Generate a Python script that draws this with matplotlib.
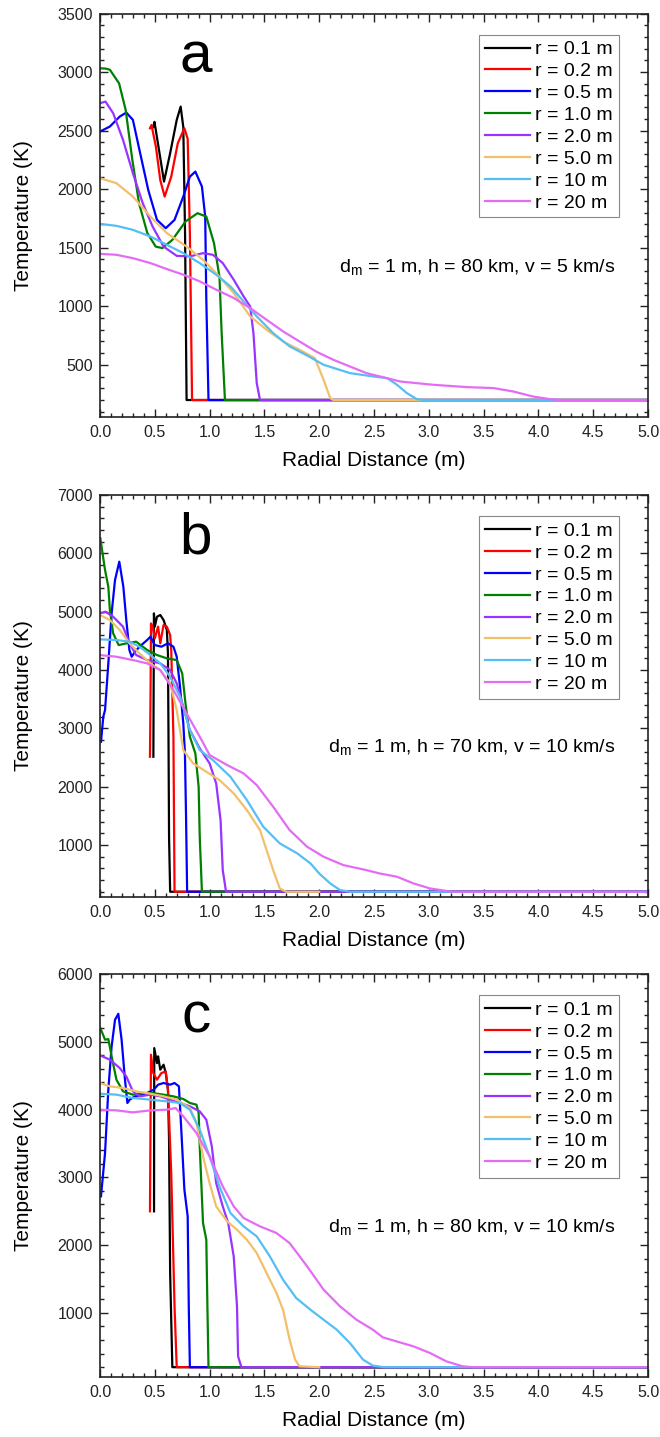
import matplotlib
matplotlib.use('Agg')
import matplotlib.pyplot as plt
from matplotlib.ticker import MultipleLocator

plt.rcParams['font.family'] = ['Liberation Sans', 'DejaVu Sans']
plt.rcParams['mathtext.fontset'] = 'custom'
plt.rcParams['mathtext.rm'] = 'Liberation Sans'

labels = ['r = 0.1 m', 'r = 0.2 m', 'r = 0.5 m', 'r = 1.0 m',
          'r = 2.0 m', 'r = 5.0 m', 'r = 10 m', 'r = 20 m']
colors = ['#000000', '#FF0000', '#0000FF', '#008000',
          '#9933FF', '#F2C06A', '#55BEF5', '#E46CF5']

# ---- panel a: d = 1 m, h = 80 km, v = 5 km/s ----
a_r01_x = [0.485, 0.497, 0.548, 0.584, 0.64, 0.70, 0.736, 0.76, 0.776, 0.79, 5.0]
a_r01_t = [2530, 2575, 2278, 2065, 2307, 2591, 2705, 2530, 1625, 200, 200]
a_r02_x = [0.456, 0.47, 0.51, 0.55, 0.59, 0.65, 0.71, 0.77, 0.80, 0.82, 0.84, 5.0]
a_r02_t = [2520, 2548, 2363, 2077, 1937, 2107, 2393, 2520, 2430, 1625, 200, 200]
a_r05_x = [0, 0.09, 0.18, 0.24, 0.30, 0.36, 0.44, 0.52, 0.60, 0.68, 0.76, 0.82, 0.87,
           0.93, 0.96, 0.97, 0.99, 5.0]
a_r05_t = [2492, 2535, 2620, 2654, 2592, 2335, 1994, 1738, 1667, 1738, 1937, 2107, 2150,
           2022, 1766, 1055, 200, 200]
a_r10_x = [0, 0.05, 0.09, 0.174, 0.234, 0.295, 0.356, 0.432, 0.508, 0.569, 0.66, 0.78,
           0.89, 0.97, 1.04, 1.09, 1.11, 1.14, 5.0]
a_r10_t = [3032, 3030, 3020, 2904, 2677, 2250, 1880, 1625, 1510, 1497, 1567, 1724,
           1795, 1766, 1539, 1254, 771, 200, 200]
a_r20_x = [0, 0.05, 0.12, 0.21, 0.30, 0.39, 0.48, 0.58, 0.70, 0.82, 0.94, 1.03, 1.12,
           1.22, 1.31, 1.37, 1.40, 1.43, 1.46, 5.0]
a_r20_t = [2734, 2748, 2649, 2421, 2137, 1880, 1681, 1510, 1431, 1426, 1454, 1440, 1369,
           1227, 1085, 999, 771, 345, 200, 200]
a_r50_x = [0, 0.15, 0.30, 0.46, 0.61, 0.79, 0.94, 1.09, 1.22, 1.37, 1.52, 1.67, 1.82,
           1.96, 2.04, 2.10, 2.13, 5.0]
a_r50_t = [2094, 2051, 1937, 1766, 1625, 1510, 1397, 1254, 1113, 914, 800, 700, 629,
           558, 373, 217, 200, 200]
a_r100_x = [0, 0.15, 0.30, 0.46, 0.61, 0.76, 0.91, 1.06, 1.19, 1.31, 1.43, 1.58, 1.73,
            1.89, 2.04, 2.28, 2.50, 2.62, 2.71, 2.80, 2.89, 2.95, 5.0]
a_r100_t = [1704, 1687, 1653, 1596, 1525, 1454, 1369, 1270, 1170, 1042, 914, 771, 658,
            580, 501, 430, 400, 387, 330, 259, 208, 200, 200]
a_r200_x = [0, 0.15, 0.30, 0.46, 0.61, 0.76, 0.91, 1.06, 1.22, 1.37, 1.52, 1.67, 1.82,
            1.98, 2.13, 2.43, 2.74, 3.04, 3.35, 3.59, 3.77, 3.95, 4.1, 4.2, 5.0]
a_r200_t = [1448, 1440, 1411, 1369, 1318, 1270, 1213, 1142, 1071, 985, 885, 786, 700,
            610, 543, 430, 358, 330, 310, 302, 273, 230, 208, 200, 200]

# ---- panel b: d = 1 m, h = 70 km, v = 10 km/s ----
b_r01_x = [0.487, 0.492, 0.50, 0.52, 0.55, 0.58, 0.61, 0.62, 0.625, 0.63, 0.64, 5.0]
b_r01_t = [2514, 4971, 4743, 4914, 4943, 4857, 4686, 4286, 2857, 1143, 200, 200]
b_r02_x = [0.456, 0.462, 0.465, 0.48, 0.50, 0.53, 0.55, 0.58, 0.61, 0.64, 0.65, 0.67,
           0.68, 5.0]
b_r02_t = [2514, 3800, 4800, 4743, 4543, 4743, 4457, 4771, 4743, 4600, 4343, 2857,
           200, 200]
b_r05_x = [0.009, 0.03, 0.046, 0.076, 0.106, 0.137, 0.176, 0.213, 0.24, 0.268, 0.289,
           0.32, 0.36, 0.43, 0.46, 0.50, 0.56, 0.62, 0.67, 0.70, 0.73, 0.76, 0.775,
           0.785, 0.795, 5.0]
b_r05_t = [2771, 3200, 3314, 4114, 4971, 5543, 5857, 5428, 4857, 4343, 4228,
           4314, 4400, 4514, 4571, 4428, 4400, 4457, 4400, 4228, 3714, 3086, 2571,
           1500, 200, 200]
b_r10_x = [0.003, 0.046, 0.076, 0.09, 0.12, 0.17, 0.24, 0.33, 0.43, 0.52, 0.61, 0.70,
           0.75, 0.78, 0.82, 0.87, 0.90, 0.91, 0.93, 5.0]
b_r10_t = [6258, 5714, 5428, 5029, 4629, 4428, 4457, 4486, 4343, 4257, 4200, 4171,
           3943, 3429, 2857, 2571, 2000, 1143, 200, 200]
b_r20_x = [0, 0.05, 0.12, 0.21, 0.27, 0.33, 0.43, 0.55, 0.64, 0.70, 0.76, 0.82, 0.91,
           1.00, 1.06, 1.10, 1.12, 1.15, 5.0]
b_r20_t = [4971, 5000, 4914, 4743, 4457, 4257, 4171, 4114, 4000, 3771, 3371, 2971, 2657,
           2400, 2057, 1429, 571, 200, 200]
b_r50_x = [0, 0.09, 0.18, 0.27, 0.36, 0.46, 0.55, 0.64, 0.70, 0.76, 0.85, 0.97, 1.09,
           1.22, 1.34, 1.46, 1.52, 1.58, 1.64, 1.70, 2.0]
b_r50_t = [4943, 4857, 4686, 4457, 4286, 4114, 4000, 3771, 3314, 2628, 2400, 2257, 2114,
           1886, 1600, 1257, 914, 571, 257, 200, 200]
b_r100_x = [0, 0.15, 0.27, 0.36, 0.46, 0.55, 0.64, 0.73, 0.82, 0.91, 1.03, 1.19, 1.34,
            1.49, 1.64, 1.80, 1.92, 2.0, 2.10, 2.19, 2.28, 5.0]
b_r100_t = [4526, 4514, 4486, 4400, 4257, 4114, 3886, 3543, 2971, 2628, 2457, 2171, 1771,
            1314, 1029, 857, 686, 514, 343, 229, 200, 200]
b_r200_x = [0, 0.15, 0.30, 0.43, 0.55, 0.67, 0.79, 0.91, 1.00, 1.16, 1.31, 1.43, 1.58,
            1.73, 1.89, 2.04, 2.22, 2.43, 2.55, 2.71, 2.86, 3.01, 3.16, 3.22, 5.0]
b_r200_t = [4257, 4228, 4171, 4114, 4000, 3657, 3257, 2857, 2543, 2371, 2228, 2028, 1657,
            1257, 971, 800, 657, 571, 514, 457, 343, 257, 214, 200, 200]

# ---- panel c: d = 1 m, h = 80 km, v = 10 km/s ----
c_r01_x = [0.493, 0.495, 0.52, 0.53, 0.55, 0.58, 0.60, 0.62, 0.63, 0.64, 0.66, 5.0]
c_r01_t = [2499, 4907, 4686, 4785, 4588, 4662, 4539, 4293, 3555, 1589, 200, 200]
c_r02_x = [0.456, 0.465, 0.486, 0.52, 0.56, 0.60, 0.62, 0.65, 0.68, 0.70, 5.0]
c_r02_t = [2499, 4809, 4539, 4441, 4539, 4563, 4293, 3064, 1097, 200, 200]
c_r05_x = [0.009, 0.046, 0.076, 0.106, 0.137, 0.167, 0.197, 0.228, 0.25, 0.27, 0.32,
           0.36, 0.43, 0.49, 0.53, 0.58, 0.64, 0.68, 0.72, 0.74, 0.77, 0.80, 0.81,
           0.82, 5.0]
c_r05_t = [2720, 3360, 4293, 4931, 5324, 5413, 5031, 4441, 4097, 4146, 4195,
           4205, 4244, 4293, 4367, 4392, 4367, 4392, 4343, 3753, 2818, 2425, 1097,
           200, 200]
c_r10_x = [0.003, 0.046, 0.076, 0.106, 0.15, 0.21, 0.30, 0.39, 0.48, 0.58, 0.67, 0.76,
           0.82, 0.88, 0.90, 0.91, 0.94, 0.97, 0.98, 0.99, 5.0]
c_r10_t = [5203, 5031, 5040, 4785, 4441, 4269, 4220, 4244, 4244, 4220, 4195, 4156,
           4097, 4072, 3949, 3457, 2326, 2080, 1097, 200, 200]
c_r20_x = [0, 0.09, 0.18, 0.24, 0.30, 0.36, 0.46, 0.55, 0.64, 0.73, 0.82, 0.91, 0.97,
           1.02, 1.06, 1.12, 1.17, 1.22, 1.25, 1.26, 1.29, 5.0]
c_r20_t = [4800, 4736, 4613, 4490, 4269, 4195, 4220, 4195, 4146, 4097, 4048, 3974, 3851,
           3457, 2916, 2572, 2326, 1834, 1097, 360, 200, 200]
c_r50_x = [0, 0.09, 0.21, 0.33, 0.46, 0.58, 0.70, 0.82, 0.88, 0.94, 1.00, 1.06, 1.16,
           1.25, 1.34, 1.43, 1.52, 1.61, 1.67, 1.73, 1.78, 1.82, 2.0]
c_r50_t = [4392, 4343, 4318, 4269, 4234, 4195, 4146, 4023, 3802, 3310, 2916, 2572, 2351,
           2228, 2080, 1884, 1589, 1294, 1048, 606, 311, 213, 200]
c_r100_x = [0, 0.15, 0.30, 0.46, 0.61, 0.73, 0.82, 0.91, 1.00, 1.09, 1.19, 1.31, 1.43,
            1.55, 1.67, 1.79, 1.92, 2.04, 2.16, 2.28, 2.40, 2.49, 2.59, 5.0]
c_r100_t = [4234, 4220, 4171, 4146, 4121, 4097, 3998, 3703, 3310, 2867, 2474, 2277, 2130,
            1834, 1490, 1220, 1048, 900, 753, 556, 311, 223, 200, 200]
c_r200_x = [0, 0.15, 0.30, 0.46, 0.61, 0.69, 0.76, 0.88, 1.00, 1.12, 1.22, 1.31, 1.46,
            1.61, 1.73, 1.89, 2.04, 2.19, 2.34, 2.49, 2.58, 2.86, 3.01, 3.16, 3.31,
            3.40, 5.0]
c_r200_t = [3998, 3988, 3959, 3988, 3998, 4023, 3900, 3654, 3310, 2867, 2572, 2400, 2277,
            2179, 2031, 1687, 1343, 1097, 900, 753, 640, 507, 410, 286, 212, 200, 200]

panels = [
    ('a', 'd$_\\mathregular{m}$ = 1 m, h = 80 km, v = 5 km/s', (55, 3500), 500, 100,
     [(a_r01_x, a_r01_t), (a_r02_x, a_r02_t), (a_r05_x, a_r05_t), (a_r10_x, a_r10_t),
      (a_r20_x, a_r20_t), (a_r50_x, a_r50_t), (a_r100_x, a_r100_t), (a_r200_x, a_r200_t)]),
    ('b', 'd$_\\mathregular{m}$ = 1 m, h = 70 km, v = 10 km/s', (110, 7000), 1000, 200,
     [(b_r01_x, b_r01_t), (b_r02_x, b_r02_t), (b_r05_x, b_r05_t), (b_r10_x, b_r10_t),
      (b_r20_x, b_r20_t), (b_r50_x, b_r50_t), (b_r100_x, b_r100_t), (b_r200_x, b_r200_t)]),
    ('c', 'd$_\\mathregular{m}$ = 1 m, h = 80 km, v = 10 km/s', (55, 6000), 1000, 200,
     [(c_r01_x, c_r01_t), (c_r02_x, c_r02_t), (c_r05_x, c_r05_t), (c_r10_x, c_r10_t),
      (c_r20_x, c_r20_t), (c_r50_x, c_r50_t), (c_r100_x, c_r100_t), (c_r200_x, c_r200_t)]),
]

W, H = 660, 1437
fig = plt.figure(figsize=(W / 100, H / 100), dpi=100)

# axes boxes in pixels: (top, bottom)
boxes = [(13.5, 417), (495, 897), (974, 1377)]
left_px, right_px = 100, 648

for (tag, note, ylim, ymaj, ymin, curves), (top, bot) in zip(panels, boxes):
    ax = fig.add_axes([left_px / W, 1 - bot / H, (right_px - left_px) / W, (bot - top) / H])
    for (x, t), c, lab in zip(curves, colors, labels):
        ax.plot(x, t, color=c, lw=1.6, label=lab)
    ax.set_xlim(0, 5.0)
    ax.set_ylim(*ylim)
    ax.xaxis.set_major_locator(MultipleLocator(0.5))
    ax.xaxis.set_minor_locator(MultipleLocator(0.1))
    ax.yaxis.set_major_locator(MultipleLocator(ymaj))
    ax.yaxis.set_minor_locator(MultipleLocator(ymin))
    ax.xaxis.set_major_formatter(matplotlib.ticker.FormatStrFormatter('%.1f'))
    ax.tick_params(which='both', direction='in', top=True, right=True,
                   labelsize=11.5, color='#222222', labelcolor='#222222')
    ax.tick_params(which='major', length=6, width=1)
    ax.tick_params(which='minor', length=3, width=1)
    ax.tick_params(axis='x', pad=6)
    ax.tick_params(axis='y', pad=5)
    for s in ax.spines.values():
        s.set_linewidth(1.2)
        s.set_color('#222222')
    ax.set_xlabel('Radial Distance (m)', fontsize=15)
    ax.set_ylabel('Temperature (K)', fontsize=15)
    ax.xaxis.set_label_coords(0.5, -0.085)
    ax.yaxis.set_label_coords(-0.122, 0.5)
    ax.text(0.175, 0.855, tag, transform=ax.transAxes, fontsize=42,
            ha='center', va='baseline')
    ax.text(0.94, 0.37, note, transform=ax.transAxes, fontsize=14,
            ha='right', va='center')
    leg = ax.legend(loc='upper right', bbox_to_anchor=(0.947, 0.947), borderaxespad=0,
                    fontsize=14, handlelength=2.3, handletextpad=0.3, labelspacing=0.22,
                    borderpad=0.3, fancybox=False, framealpha=1, edgecolor='#888888')
    leg.get_frame().set_linewidth(0.8)

fig.savefig('out.png', dpi=100)
